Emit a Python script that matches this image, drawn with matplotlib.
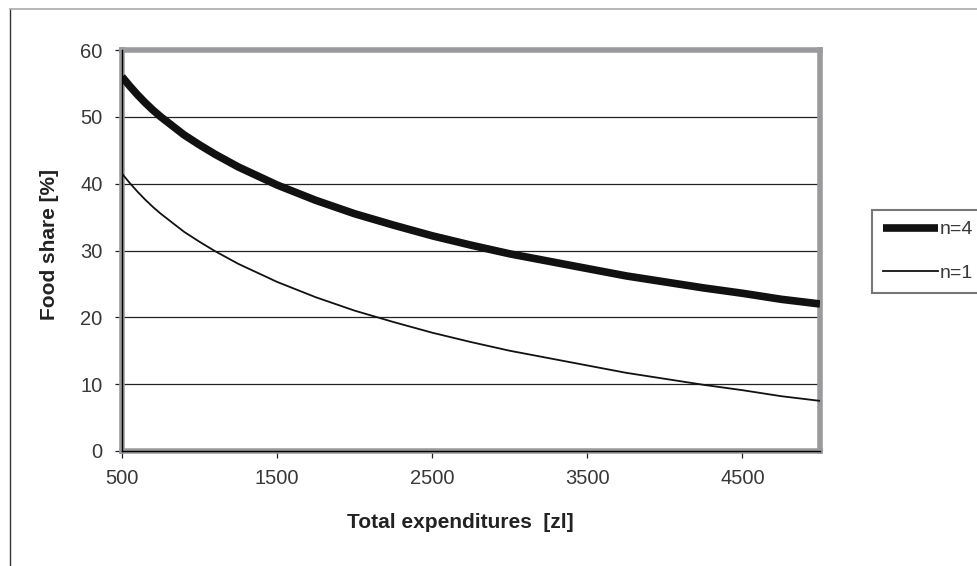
import matplotlib
matplotlib.use("Agg")
import matplotlib.pyplot as plt
from matplotlib.lines import Line2D

plt.rcParams['font.family'] = ['Liberation Sans', 'DejaVu Sans']

# Data
expenditure = [500, 550, 600, 650, 700, 750, 800, 900, 1000, 1100, 1250, 1500, 1750, 2000,
               2250, 2500, 2750, 3000, 3250, 3500, 3750, 4000, 4250, 4500, 4750, 5000]
share_n4 = [56.0, 54.6, 53.3, 52.1, 51.0, 50.0, 49.1, 47.3, 45.8, 44.4, 42.5, 39.8, 37.5, 35.5,
            33.8, 32.2, 30.8, 29.5, 28.4, 27.3, 26.2, 25.3, 24.4, 23.6, 22.7, 22.0]
share_n1 = [41.5, 40.1, 38.8, 37.6, 36.5, 35.5, 34.6, 32.8, 31.3, 29.9, 28.0, 25.3, 23.0, 21.0,
            19.3, 17.7, 16.3, 15.0, 13.9, 12.8, 11.7, 10.8, 9.9, 9.1, 8.2, 7.5]
x_ticks = [500, 1500, 2500, 3500, 4500]
y_ticks = [0, 10, 20, 30, 40, 50, 60]
labels = ["n=4", "n=1"]

W, H = 978, 566
fig = plt.figure(figsize=(W / 100, H / 100), dpi=100)
ax = fig.add_axes([122 / W, 1 - 451 / H, (820 - 122) / W, (451 - 50) / H])

l4, = ax.plot(expenditure, share_n4, color='#111111', lw=5.5, solid_capstyle='butt',
              solid_joinstyle='round', zorder=4)
l1, = ax.plot(expenditure, share_n1, color='#111111', lw=1.3, solid_joinstyle='round', zorder=4)

ax.set_xlim(500, 5000)
ax.set_ylim(0, 60)
ax.set_xticks(x_ticks)
ax.set_yticks(y_ticks)
for y in y_ticks[1:-1]:
    ax.axhline(y, color='#222222', lw=0.9, zorder=2)

for s in ax.spines.values():
    s.set_color('#9a9a9c')
    s.set_linewidth(4)
# black axis lines over the grey frame
ax.plot([0, 0], [0, 1], transform=ax.transAxes, color='black', lw=1.0, clip_on=False, zorder=5)
ax.plot([0, 1], [0, 0], transform=ax.transAxes, color='black', lw=1.0, clip_on=False, zorder=5)

ax.tick_params(axis='both', direction='out', length=5, width=0.9, color='#222222',
               labelsize=14.5, labelcolor='#383838')
ax.tick_params(axis='y', pad=9)
ax.tick_params(axis='x', pad=8)

fig.text(460 / W, 1 - 523 / H, 'Total expenditures  [zl]', fontsize=15, fontweight='bold',
         color='#222222', ha='center', va='center')
fig.text(50 / W, 1 - 244 / H, 'Food share [%]', fontsize=15, fontweight='bold',
         color='#222222', ha='center', va='center', rotation=90)

# legend
leg = fig.legend([l4, l1], labels, loc='upper left',
                 bbox_to_anchor=(872 / W, 1 - 210 / H), frameon=True,
                 handlelength=2.85, handletextpad=0.1, borderpad=0.55,
                 labelspacing=1.35, fontsize=14, borderaxespad=0,
                 fancybox=False)
leg.get_frame().set_edgecolor('#555555')
leg.get_frame().set_linewidth(1.5)
for t in leg.get_texts():
    t.set_color('#383838')

# outer page frame lines
fig.add_artist(Line2D([10 / W, 10 / W], [0, 1 - 9 / H], color='#333333', lw=1.0))
fig.add_artist(Line2D([10 / W, 1], [1 - 9 / H, 1 - 9 / H], color='#aaaaaa', lw=1.2))

fig.savefig('out.png', dpi=100)
